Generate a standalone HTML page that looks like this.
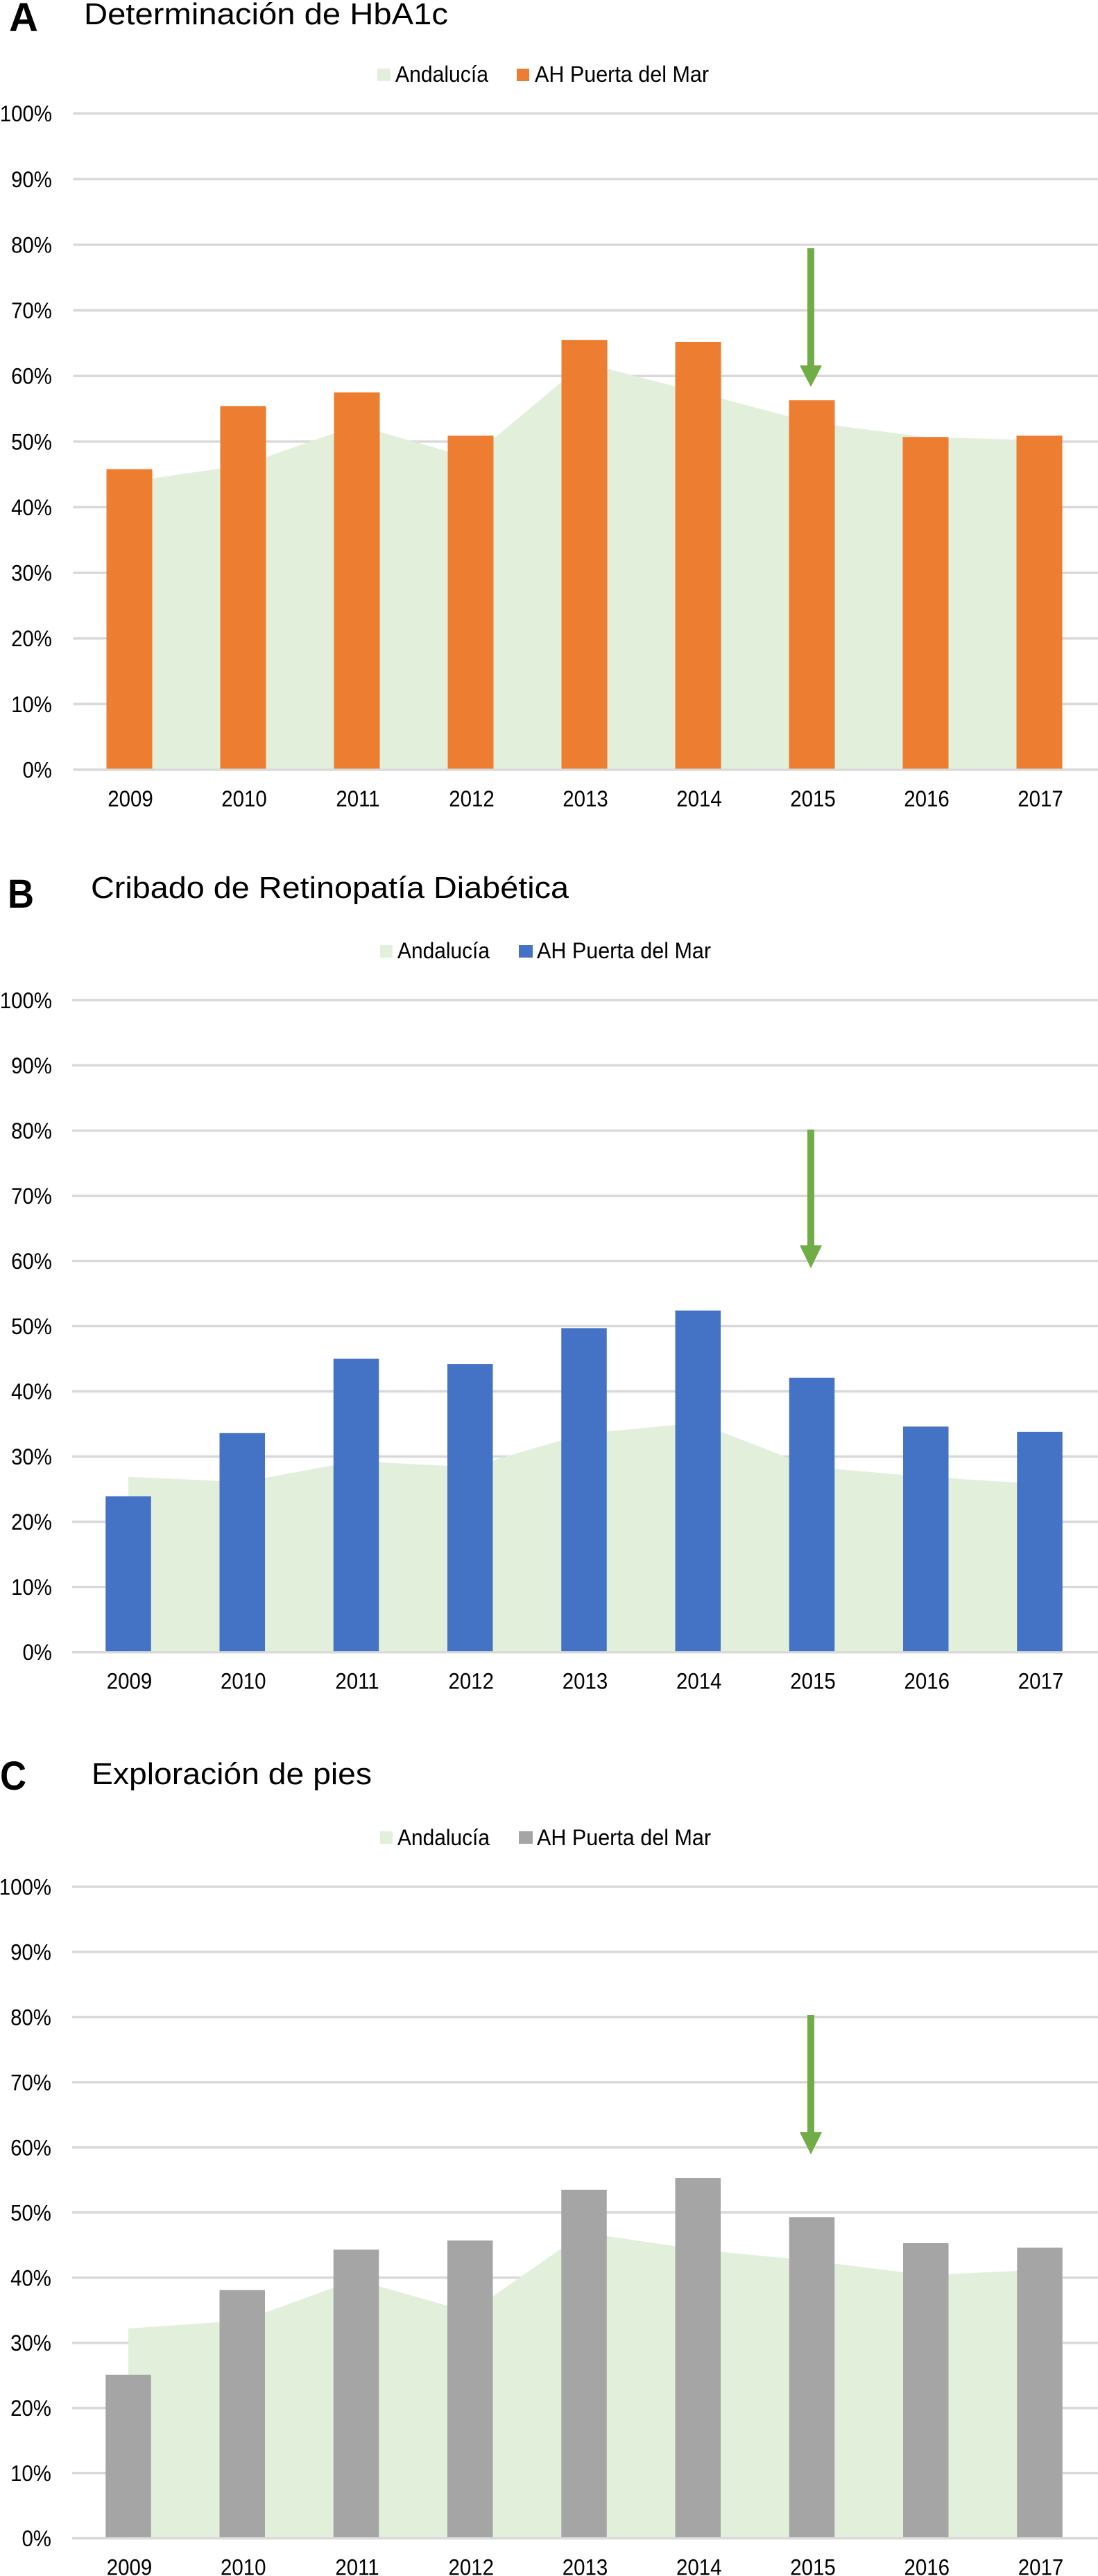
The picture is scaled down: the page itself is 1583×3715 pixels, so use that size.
<!DOCTYPE html>
<html lang="es">
<head>
<meta charset="utf-8">
<title>Determinación de HbA1c, Retinopatía, Exploración de pies</title>
<style>
html,body{margin:0;padding:0;background:#fff;}
svg{display:block;}
text{font-family:"Liberation Sans",sans-serif;fill:#000;}
.letter{font-size:58px;font-weight:bold;}
.title{font-size:44px;}
.legend{font-size:32px;}
.tick{font-size:32px;-webkit-text-stroke:0.4px #000;}
</style>
</head>
<body>
<svg id="figure" xmlns="http://www.w3.org/2000/svg" width="1583" height="3715" viewBox="0 0 1583 3715">
  <rect x="0" y="0" width="1583" height="3715" fill="#ffffff"/>

  <g id="panel-a"></g>
  <g id="panel-b"></g>
  <g id="panel-c"></g>

  <g>
    <text class="letter" x="13" y="45" textLength="42" lengthAdjust="spacingAndGlyphs">A</text>
    <text class="title" x="121" y="35" textLength="525" lengthAdjust="spacingAndGlyphs">Determinación de HbA1c</text>
    <rect x="544" y="99" width="19" height="18" fill="#E2EFDA"/>
    <text class="legend" x="570" y="118" textLength="134" lengthAdjust="spacingAndGlyphs">Andalucía</text>
    <rect x="745" y="99" width="18" height="18" fill="#ED7D31"/>
    <text class="legend" x="771" y="118" textLength="251" lengthAdjust="spacingAndGlyphs">AH Puerta del Mar</text>
  </g>

  <g>
    <text class="letter" x="11" y="1309" textLength="38" lengthAdjust="spacingAndGlyphs">B</text>
    <text class="title" x="131" y="1295" textLength="689" lengthAdjust="spacingAndGlyphs">Cribado de Retinopatía Diabética</text>
    <rect x="548" y="1363" width="18" height="18" fill="#E2EFDA"/>
    <text class="legend" x="573" y="1382" textLength="133" lengthAdjust="spacingAndGlyphs">Andalucía</text>
    <rect x="748" y="1363" width="20" height="18" fill="#4472C4"/>
    <text class="legend" x="774" y="1382" textLength="251" lengthAdjust="spacingAndGlyphs">AH Puerta del Mar</text>
  </g>

  <g>
    <text class="letter" x="0" y="2581" textLength="38" lengthAdjust="spacingAndGlyphs">C</text>
    <text class="title" x="132" y="2573" textLength="404" lengthAdjust="spacingAndGlyphs">Exploración de pies</text>
    <rect x="548" y="2641" width="18" height="18" fill="#E2EFDA"/>
    <text class="legend" x="573" y="2661" textLength="133" lengthAdjust="spacingAndGlyphs">Andalucía</text>
    <rect x="748" y="2641" width="20" height="18" fill="#A5A5A5"/>
    <text class="legend" x="774" y="2661" textLength="251" lengthAdjust="spacingAndGlyphs">AH Puerta del Mar</text>
  </g>

  <g fill="#70AD47">
    <polygon points="1164,358 1174,358 1174,527 1185,527 1169,558 1153,527 1164,527"/>
    <polygon points="1164,1629 1174,1629 1174,1796 1185,1796 1169,1829 1153,1796 1164,1796"/>
    <polygon points="1164,2906 1174,2906 1174,3075 1185,3075 1169,3107 1153,3075 1164,3075"/>
  </g>
</svg>

<script>
// Shared axis labels
const categories = ['2009', '2010', '2011', '2012', '2013', '2014', '2015', '2016', '2017'];
const tickValues = [0, 10, 20, 30, 40, 50, 60, 70, 80, 90, 100];
const tickLabels = ['0%', '10%', '20%', '30%', '40%', '50%', '60%', '70%', '80%', '90%', '100%'];

// Panel A: Determinación de HbA1c
const andaluciaA = [43.9, 46.4, 52.5, 47.5, 62.0, 57.5, 52.9, 50.7, 50.2];
const puertaA = [45.8, 55.4, 57.5, 50.9, 65.5, 65.2, 56.3, 50.7, 50.9];

// Panel B: Cribado de Retinopatía Diabética
const andaluciaB = [26.9, 26.1, 29.3, 28.4, 33.5, 35.2, 28.4, 26.9, 25.8];
const puertaB = [23.9, 33.6, 45.0, 44.2, 49.7, 52.4, 42.1, 34.6, 33.8];

// Panel C: Exploración de pies
const andaluciaC = [32.2, 33.4, 39.7, 34.7, 46.9, 44.3, 42.6, 40.4, 41.2];
const puertaC = [25.1, 38.1, 44.3, 45.7, 53.5, 55.3, 49.3, 45.3, 44.6];

const SVG_NS = 'http://www.w3.org/2000/svg';
const TEXT_SQUEEZE = 0.92;

function shape(tag, attrs) {
  const el = document.createElementNS(SVG_NS, tag);
  for (const key in attrs) el.setAttribute(key, attrs[key]);
  return el;
}

function squeeze(label) {
  label.setAttribute('textLength', label.getComputedTextLength() * TEXT_SQUEEZE);
  label.setAttribute('lengthAdjust', 'spacingAndGlyphs');
}

function drawPanel(id, suffix, andalucia, puerta, barColor, frame) {
  const root = document.getElementById(id);
  const yScale = function (v) { return frame.y0 - (frame.y0 - frame.y100) * v / 100; };
  const xScale = function (i) { return frame.firstX + frame.stepX * i; };
  const floorY = frame.y0 - 1.5;

  tickValues.forEach(function (value, i) {
    const line = shape('line', { x1: frame.gridX, x2: 1583, y1: yScale(value), y2: yScale(value), stroke: '#D9D9D9', 'stroke-width': 3.5 });
    
    
    root.appendChild(line);

    const label = shape('text', { x: frame.tickX, y: yScale(value) + 11.5, 'text-anchor': 'end', class: 'tick' });
    
    
    label.textContent = tickLabels[i];
    root.appendChild(label);
    squeeze(label);
  });

  let areaPath = 'M' + xScale(0) + ' ' + floorY;
  andalucia.forEach(function (value, i) {
    areaPath += ' L' + xScale(i) + ' ' + yScale(value);
  });
  areaPath += ' L' + xScale(andalucia.length - 1) + ' ' + floorY + ' Z';
  const area = shape('path', { d: areaPath, fill: '#E2EFDA' });
  
  
  root.appendChild(area);

  puerta.forEach(function (value, i) {
    const bar = shape('rect', {
      x: xScale(i) - frame.barWidth / 2,
      y: yScale(value),
      width: frame.barWidth,
      height: floorY - yScale(value),
      fill: barColor
    });
    
    
    root.appendChild(bar);
  });

  categories.forEach(function (year, i) {
    const label = shape('text', { x: xScale(i) + frame.labelShift, y: frame.y0 + 53, 'text-anchor': 'middle', class: 'tick' });
    
    
    label.textContent = year;
    root.appendChild(label);
    squeeze(label);
  });
}

drawPanel('panel-a', 'a', andaluciaA, puertaA, '#ED7D31', { y100: 163.7, y0: 1110, gridX: 105.5, tickX: 75, firstX: 186.5, stepX: 164, barWidth: 66, labelShift: 1.5 });
drawPanel('panel-b', 'b', andaluciaB, puertaB, '#4472C4', { y100: 1442.4, y0: 2382.7, gridX: 104, tickX: 75, firstX: 185, stepX: 164.25, barWidth: 65.5, labelShift: 1.5 });
drawPanel('panel-c', 'c', andaluciaC, puertaC, '#A5A5A5', { y100: 2721, y0: 3660.6, gridX: 104, tickX: 74, firstX: 185, stepX: 164.25, barWidth: 65.5, labelShift: 1.5 });
</script>
</body>
</html>
